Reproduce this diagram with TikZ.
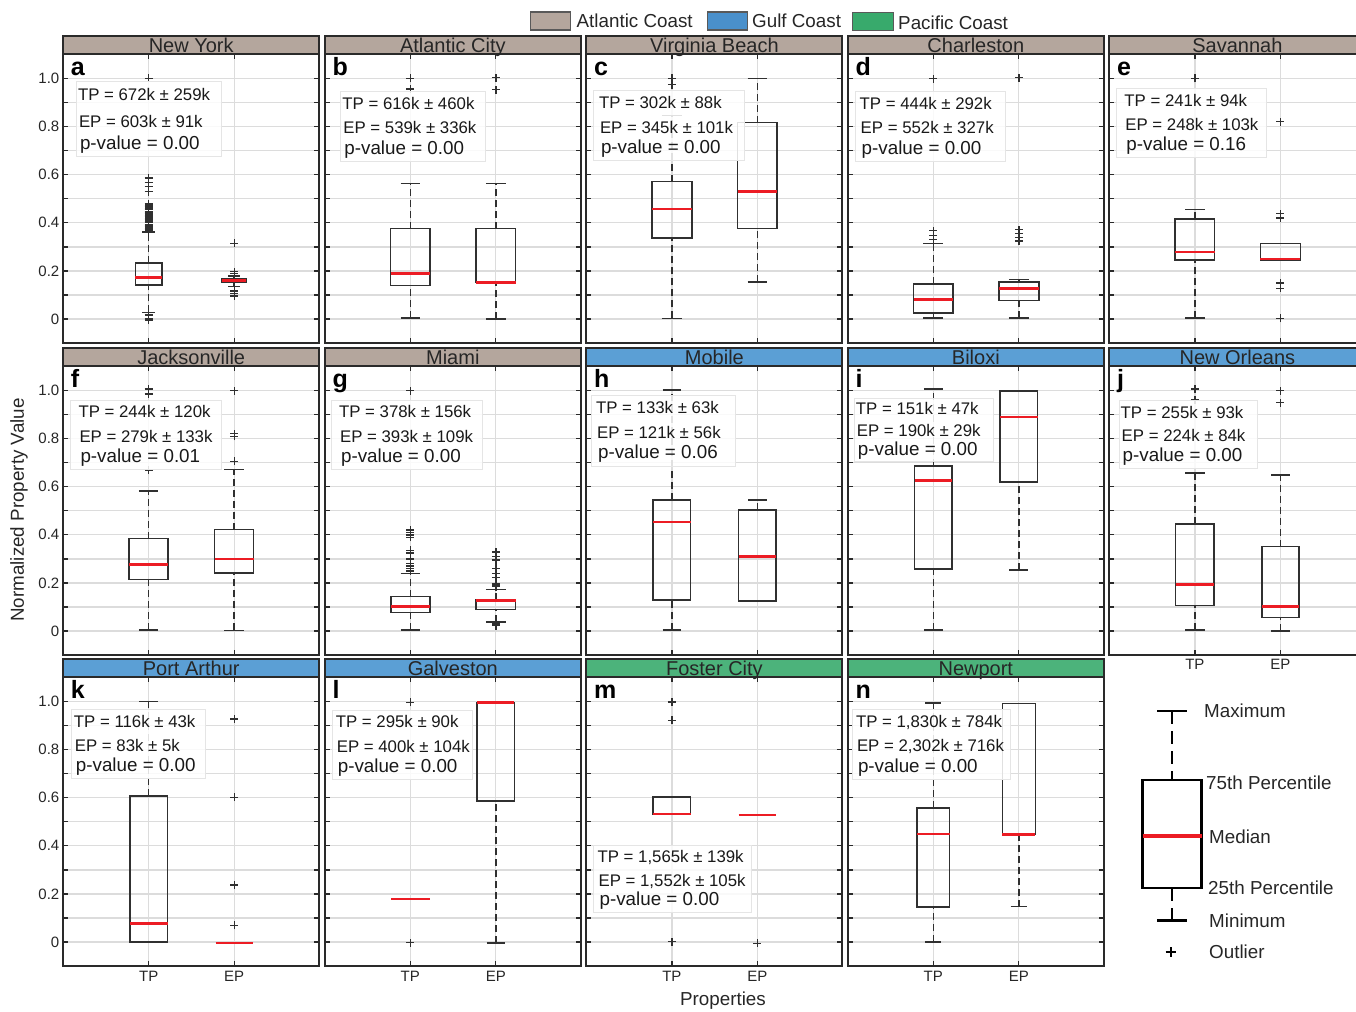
\documentclass[tikz,border=0pt]{standalone}
\usepackage{fontspec}
\setmainfont{Liberation Sans}
\usetikzlibrary{calc}

\definecolor{atlantic}{HTML}{B4A69D}
\definecolor{gulf}{HTML}{5B9FD5}
\definecolor{pacific}{HTML}{4CB37B}
\definecolor{gulfkey}{HTML}{4A90CB}
\definecolor{pacifickey}{HTML}{38AA6C}
\definecolor{gridgray}{HTML}{DCDCDC}
\definecolor{framegray}{HTML}{2A2A2A}
\definecolor{boxgray}{HTML}{303030}
\definecolor{medianred}{HTML}{EC1C24}

\tikzset{
  gridline/.style={draw=gridgray, line width=1.3pt},
  tickmark/.style={draw=framegray, line width=1.3pt},
  panelframe/.style={draw=framegray, line width=2pt},
  boxline/.style={draw=boxgray, line width=1.5pt},
  whisker/.style={draw=boxgray, line width=1.5pt, dash pattern=on 7pt off 4pt},
  median/.style={draw=medianred, line width=2.6pt},
  outlier/.style={draw=boxgray, line width=1.4pt},
  statbox/.style={draw=black!10, line width=0.8pt, fill=white, fill opacity=0.85},
  stattext/.style={anchor=base west, inner sep=0pt, text=black!90, font=\fontsize{16.8}{16.8}\selectfont},
  pvaltext/.style={stattext, font=\fontsize{18.8}{18.8}\selectfont},
  titletext/.style={anchor=base, inner sep=0pt, yshift=1.5pt, text=black!85, font=\fontsize{20}{20}\selectfont},
  lettertext/.style={anchor=base west, inner sep=0pt, yshift=-21pt, font=\fontsize{25}{25}\selectfont\bfseries},
  ticklabel/.style={inner sep=0pt, text=black!85, font=\fontsize{15}{15}\selectfont},
  axislabel/.style={inner sep=0pt, text=black!85, font=\fontsize{18.8}{18.8}\selectfont},
  keyline/.style={draw=black, line width=2.5pt},
  keywhisker/.style={draw=black, line width=2.2pt, dash pattern=on 13pt off 7pt},
  keymedian/.style={draw=medianred, line width=3.5pt},
  keytext/.style={anchor=west, inner sep=0pt, text=black!85, font=\fontsize{18.8}{18.8}\selectfont},
  swatch/.style={draw=black!65, line width=1.5pt},
}

\begin{document}
\begin{tikzpicture}[x=1pt, y=-1pt]
      \newcommand\PW{256}
      \newcommand\TPX{85.5}
      \newcommand\EPX{171}
      \newcommand\HT{1.1773}
      \newcommand\YU{240.5pt}

      % one panel: left, zero line, title, letter, coast colour, boxes
      \newcommand\PANEL[6]{%
        \begin{scope}[shift={(#1,#2)}, y=\YU]
          \foreach \k in {0,...,10} \draw[gridline] (0,{\k/10}) -- (\PW,{\k/10});
          \draw[gridline] (\TPX,-0.1) -- (\TPX,1.1) (\EPX,-0.1) -- (\EPX,1.1);
          #6
          \foreach \k in {0,...,10} \draw[tickmark] (0,{\k/10}) -- ++(5pt,0) (\PW,{\k/10}) -- ++(-5pt,0);
          \foreach \xx in {\TPX,\EPX} \draw[tickmark] (\xx,-0.1) -- ++(0,5pt) (\xx,1.1) -- ++(0,-5pt);
          \draw[panelframe] (0,-0.1) rectangle (\PW,1.1);
          \draw[panelframe, fill=#5] (0,1.1) rectangle (\PW,\HT);
          \node[titletext] at (\PW/2,1.1) {#3};
          \node[lettertext] at (7.5,1.1) {#4};
        \end{scope}}
      % x, half width, min, q1, median, q3, max
      \newcommand\BOXPLOT[7]{%
        \draw[whisker] (#1,#6) -- (#1,#7);
        \draw[whisker] (#1,#3) -- (#1,#4);
        \draw[boxline] ({#1-#2/2},#7) -- ({#1+#2/2},#7);
        \draw[boxline] ({#1-#2/2},#3) -- ({#1+#2/2},#3);
        \draw[boxline] ({#1-#2},#4) rectangle ({#1+#2},#6);
        \draw[median] ({#1-#2},#5) -- ({#1+#2},#5);}
      \newcommand\MEDIAN[3]{\draw[median] ({#1-#2},#3) -- ({#1+#2},#3);}
      \newcommand\OUTLIERS[2]{%
        \foreach \v in {#2} \draw[outlier] (#1,\v) +(-4pt,0) -- +(4pt,0) +(0,-4pt) -- +(0,4pt);}
      % box corners, indent, TP, EP, p-value
      \newcommand\STATS[8]{%
        \draw[statbox] (#1,#2) rectangle (#3,#4);
        \node[stattext] at ($(#1,#2)!0.26!(#1,#4)+(#5,0)$) {TP = #6};
        \node[stattext] at ($(#1,#2)!0.61!(#1,#4)+(#5+1,0)$) {EP = #7};
        \node[pvaltext] at ($(#1,#2)!0.9!(#1,#4)+(#5+2,0)$) {p-value = #8};}

      \useasboundingbox (0,0) rectangle (1356,1011);

      % legend
      \draw[swatch, fill=atlantic] (530.7,12) rectangle (570.7,30);
      \node[keytext] (atlantic) at (576.5,21) {Atlantic Coast};
      \draw[swatch, fill=gulfkey] (707.4,12) rectangle (747.7,30);
      \node[keytext] (gulf) at (752,21) {Gulf Coast};
      \draw[swatch, fill=pacifickey] (852.3,12.3) rectangle (893.3,30.7);
      \node[keytext] (pacific) at (898,23) {Pacific Coast};

      % row 1
      \PANEL{63.2}{319}{New York}{a}{atlantic}{%
        \BOXPLOT{\TPX}{13.3}{0.028}{0.142}{0.172}{0.232}{0.3625}
        \OUTLIERS{\TPX}{1.0,0.586,0.568,0.551,0.53,0.017,0.003,-0.004}
        \OUTLIERS{\TPX}{0.37,0.376,...,0.482}
        \BOXPLOT{\EPX}{12}{0.135}{0.151}{0.16}{0.168}{0.179}
        \OUTLIERS{\EPX}{0.315,0.197,0.19,0.117,0.107,0.096}}
      \PANEL{324.8}{319}{Atlantic City}{b}{atlantic}{%
        \BOXPLOT{\TPX}{19.6}{0.005}{0.139}{0.19}{0.376}{0.5625}
        \OUTLIERS{\TPX}{1.0,0.957}
        \BOXPLOT{\EPX}{19.8}{0.001}{0.153}{0.153}{0.376}{0.5625}
        \OUTLIERS{\EPX}{1.004,0.954}}
      \PANEL{586.4}{319}{Virginia Beach}{c}{atlantic}{%
        \BOXPLOT{\TPX}{20}{0.003}{0.3375}{0.458}{0.571}{0.846}
        \OUTLIERS{\TPX}{1.0,0.975}
        \BOXPLOT{\EPX}{19.8}{0.153}{0.376}{0.529}{0.817}{1.0}}
      \PANEL{847.8}{319}{Charleston}{d}{atlantic}{%
        \BOXPLOT{\TPX}{19.7}{0.004}{0.024}{0.082}{0.146}{0.314}
        \OUTLIERS{\TPX}{0.999,0.367,0.347,0.33}
        \BOXPLOT{\EPX}{20}{0.004}{0.076}{0.126}{0.154}{0.164}
        \OUTLIERS{\EPX}{1.003,0.371,0.355,0.34,0.325}}
      \PANEL{1109.4}{319}{Savannah}{e}{atlantic}{%
        \BOXPLOT{\TPX}{19.8}{0.005}{0.246}{0.279}{0.4167}{0.455}
        \OUTLIERS{\TPX}{1.0}
        \BOXPLOT{\EPX}{20}{0.246}{0.246}{0.249}{0.314}{0.314}
        \OUTLIERS{\EPX}{0.821,0.4375,0.42,0.149,0.128,0.003}}

      % row 2
      \PANEL{63.2}{631}{Jacksonville}{f}{atlantic}{%
        \BOXPLOT{\TPX}{19.5}{0.005}{0.215}{0.276}{0.384}{0.583}
        \OUTLIERS{\TPX}{1.006,0.986,0.67}
        \BOXPLOT{\EPX}{19.5}{0.003}{0.241}{0.2996}{0.4216}{0.671}
        \OUTLIERS{\EPX}{1.0,0.82,0.809,0.705}}
      \PANEL{324.8}{631}{Miami}{g}{atlantic}{%
        \BOXPLOT{\TPX}{19.5}{0.004}{0.076}{0.101}{0.143}{0.24}
        \OUTLIERS{\TPX}{1.0,0.42,0.41,0.40,0.39,0.335,0.325,0.30,0.28,0.27,0.26,0.25}
        \BOXPLOT{\EPX}{19.7}{0.037}{0.09}{0.127}{0.129}{0.1735}
        \OUTLIERS{\EPX}{0.329,0.31,0.295,0.261,0.24,0.222,0.195,0.19,0.185,0.029,0.022}}
      \PANEL{586.4}{631}{Mobile}{h}{gulf}{%
        \BOXPLOT{\TPX}{18.8}{0.004}{0.129}{0.4536}{0.545}{1.003}
        \BOXPLOT{\EPX}{18.8}{0.125}{0.125}{0.309}{0.5035}{0.544}}
      \PANEL{847.8}{631}{Biloxi}{i}{gulf}{%
        \BOXPLOT{\TPX}{18.8}{0.004}{0.258}{0.6255}{0.6866}{1.006}
        \BOXPLOT{\EPX}{18.8}{0.254}{0.619}{0.8905}{0.9988}{0.9988}}
      \PANEL{1109.4}{631}{New Orleans}{j}{gulf}{%
        \BOXPLOT{\TPX}{19.3}{0.005}{0.107}{0.194}{0.444}{0.656}
        \OUTLIERS{\TPX}{1.006,0.961}
        \BOXPLOT{\EPX}{18.5}{0.0}{0.0555}{0.101}{0.351}{0.648}
        \OUTLIERS{\EPX}{0.999,0.95}}

      % row 3
      \PANEL{63.2}{942}{Port Arthur}{k}{gulf}{%
        \BOXPLOT{\TPX}{18.8}{0.001}{0.001}{0.076}{0.6066}{1.001}
        \MEDIAN{\EPX}{18.6}{-0.004}
        \OUTLIERS{\EPX}{0.927,0.602,0.237,0.069}}
      \PANEL{324.8}{942}{Galveston}{l}{gulf}{%
        \MEDIAN{\TPX}{19.2}{0.1787}
        \OUTLIERS{\TPX}{0.9966,-0.003}
        \BOXPLOT{\EPX}{18.6}{-0.005}{0.587}{0.996}{0.996}{0.996}}
      \PANEL{586.4}{942}{Foster City}{m}{pacific}{%
        \BOXPLOT{\TPX}{18.8}{0.533}{0.533}{0.533}{0.6036}{0.6036}
        \OUTLIERS{\TPX}{0.998,0.922,0.001}
        \MEDIAN{\EPX}{18.8}{0.5276}
        \OUTLIERS{\EPX}{-0.005}}
      \PANEL{847.8}{942}{Newport}{n}{pacific}{%
        \BOXPLOT{\TPX}{16.3}{0.0}{0.145}{0.4487}{0.558}{0.994}
        \BOXPLOT{\EPX}{16.5}{0.1467}{0.4474}{0.4474}{0.9917}{0.9917}}

      % statistics boxes
      \STATS{76.3}{81}{221}{156.7}{1.5}{672k ± 259k}{603k ± 91k}{0.00}
      \STATS{340.7}{91.7}{485.6}{161}{1.5}{616k ± 460k}{539k ± 336k}{0.00}
      \STATS{593.8}{90.7}{744.2}{160.7}{5}{302k ± 88k}{345k ± 101k}{0.00}
      \STATS{855}{91.7}{1005.3}{161}{4.5}{444k ± 292k}{552k ± 327k}{0.00}
      \STATS{1116.7}{88}{1266.3}{157.7}{7.5}{241k ± 94k}{248k ± 103k}{0.16}
      \STATS{70.8}{400}{221.2}{469}{7.5}{244k ± 120k}{279k ± 133k}{0.01}
      \STATS{331.4}{400}{482.2}{469}{7.5}{378k ± 156k}{393k ± 109k}{0.00}
      \STATS{590.9}{395.7}{734.9}{466}{5}{133k ± 63k}{121k ± 56k}{0.06}
      \STATS{854.7}{398.3}{993.2}{461.7}{1}{151k ± 47k}{190k ± 29k}{0.00}
      \STATS{1119}{400.7}{1257}{468}{1.5}{255k ± 93k}{224k ± 84k}{0.00}
      \STATS{71.2}{709.3}{205.1}{778.7}{2.5}{116k ± 43k}{83k ± 5k}{0.00}
      \STATS{332.6}{710}{471.9}{779}{3}{295k ± 90k}{400k ± 104k}{0.00}
      \STATS{593.4}{845}{751.3}{912.3}{4}{1,565k ± 139k}{1,552k ± 105k}{0.00}
      \STATS{852.8}{709}{1010}{779}{3}{1,830k ± 784k}{2,302k ± 716k}{0.00}

      % axis ticks and titles
      \foreach \Z in {319,631,942}
        \foreach \v in {0,0.2,0.4,0.6,0.8,1.0}
          \node[ticklabel, anchor=east] at (59.5,{\Z-\v*240.5}) {\v};
      \foreach \L in {63.2,324.8,586.4,847.8} {
        \node[ticklabel] at (\L+\TPX,976) {TP};
        \node[ticklabel] at (\L+\EPX,976) {EP};
      }
      \node[ticklabel] at (1109.4+\TPX,664.5) {TP};
      \node[ticklabel] at (1109.4+\EPX,664.5) {EP};
      \node[axislabel, rotate=90] (ylabel) at (19,510) {Normalized Property Value};
      \node[axislabel] (xlabel) at (723,1001) {Properties};

      % box key
      \coordinate (kmax) at (1172,711);
      \coordinate (kq3) at (1172,780);
      \coordinate (kmed) at (1172,836);
      \coordinate (kq1) at (1172,888);
      \coordinate (kmin) at (1172,920.7);
      \coordinate (kout) at (1170.6,951.7);
      \draw[keywhisker] (kmax) -- (kq3);
      \draw[keywhisker] (kq1) -- (kmin);
      \draw[keyline] ([xshift=-15pt]kmax) -- ([xshift=15pt]kmax);
      \draw[keyline] ([xshift=-15pt]kmin) -- ([xshift=15pt]kmin);
      \draw[keyline] ([xshift=-29.5pt]kq3) rectangle ([xshift=29.5pt]kq1);
      \draw[keymedian] ([xshift=-29.5pt]kmed) -- ([xshift=29.5pt]kmed);
      \draw[keyline, line width=2pt] (kout) +(-5pt,0) -- +(5pt,0) +(0,-5pt) -- +(0,5pt);
      \node[keytext] (kmaxlab) at (1204,711) {Maximum};
      \node[keytext] (kq3lab) at (1206,782.7) {75th Percentile};
      \node[keytext] (kmedlab) at (1209,836.7) {Median};
      \node[keytext] (kq1lab) at (1208,887.3) {25th Percentile};
      \node[keytext] (kminlab) at (1209,921) {Minimum};
      \node[keytext] (koutlab) at (1209,951.7) {Outlier};
\end{tikzpicture}
\end{document}
